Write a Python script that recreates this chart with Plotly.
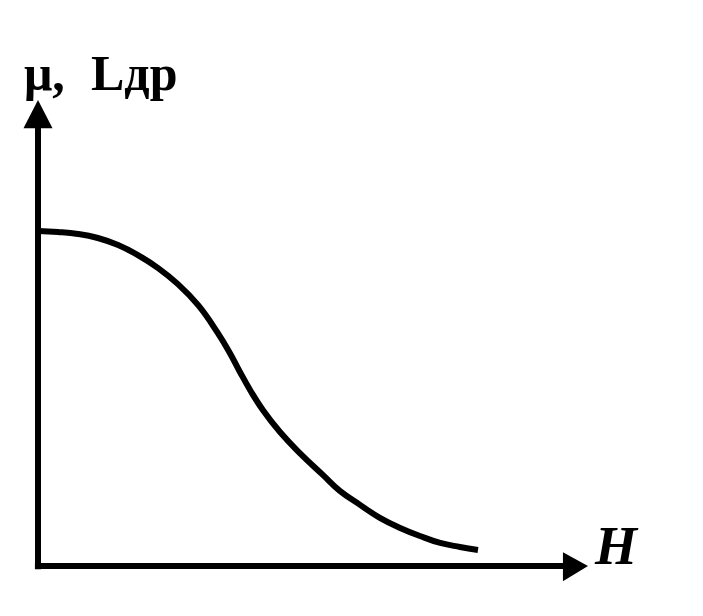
import plotly.graph_objects as go

# Curve data (arbitrary units): field strength H vs permeability / inductance
H = [0.0, 0.45, 0.91, 1.36, 1.82, 2.27, 2.73, 3.18, 3.64, 4.07, 4.36, 4.59, 4.82, 5.11,
     5.50, 5.95, 6.48, 6.86, 7.32, 7.77, 8.23, 8.68, 9.14, 9.59, 10.0]
mu = [10.03, 10.00, 9.94, 9.82, 9.61, 9.31, 8.92, 8.44, 7.81, 7.01, 6.38, 5.81, 5.27, 4.67,
      4.01, 3.38, 2.72, 2.25, 1.83, 1.44, 1.14, 0.90, 0.69, 0.57, 0.48]

y_label_a = "μ,"
y_label_b = "Lдр"
x_label = "H"

# axis extents (data units)
x_axis_end = 12.5
y_axis_end = 13.95
x_head_len = 0.57
y_head_len = 0.84
x_head_half = 0.41
y_head_half = 0.33

px_x = 44.0   # pixels per H unit
px_y = 33.4   # pixels per mu unit
W, Hpx = 687, 600   # page body has an 8px margin
ox, oy = 30, 558

fig = go.Figure()
fig.add_trace(go.Scatter(x=H, y=mu, mode="lines",
                         line=dict(color="black", width=6, shape="spline", smoothing=1.3),
                         hoverinfo="skip", showlegend=False))

lw = 6
shapes = [
    dict(type="line", xref="x", yref="y", x0=0, y0=-0.1, x1=0, y1=y_axis_end - y_head_len + 0.1,
         line=dict(color="black", width=lw)),
    dict(type="line", xref="x", yref="y", x0=-0.07, y0=0, x1=x_axis_end - x_head_len + 0.1, y1=0,
         line=dict(color="black", width=lw)),
    dict(type="path", xref="x", yref="y",
         path=f"M {-y_head_half},{y_axis_end - y_head_len} L {y_head_half},{y_axis_end - y_head_len} L 0,{y_axis_end} Z",
         fillcolor="black", line=dict(color="black", width=0)),
    dict(type="path", xref="x", yref="y",
         path=f"M {x_axis_end - x_head_len},{x_head_half} L {x_axis_end - x_head_len},{-x_head_half - 0.05} L {x_axis_end},0 Z",
         fillcolor="black", line=dict(color="black", width=0)),
]

font_lbl = dict(family="Liberation Serif", size=50, color="black")
annotations = [
    dict(x=-0.36, y=14.76, xref="x", yref="y", text=f"<b>{y_label_a}</b>", showarrow=False,
         xanchor="left", yanchor="middle", font=font_lbl),
    dict(x=1.16, y=14.76, xref="x", yref="y", text=f"<b>{y_label_b}</b>", showarrow=False,
         xanchor="left", yanchor="middle", font=font_lbl),
    dict(x=12.6, y=0.60, xref="x", yref="y", text=f"<b><i>{x_label}</i></b>", showarrow=False,
         xanchor="left", yanchor="middle",
         font=dict(family="Liberation Serif", size=54, color="black")),
]

fig.update_layout(
    width=W, height=Hpx,
    margin=dict(l=0, r=0, t=0, b=0),
    paper_bgcolor="white", plot_bgcolor="white",
    xaxis=dict(range=[-ox / px_x, (W - ox) / px_x], visible=False, fixedrange=True),
    yaxis=dict(range=[-(Hpx - oy) / px_y, oy / px_y], visible=False, fixedrange=True),
    shapes=shapes, annotations=annotations, showlegend=False,
)

fig.write_html("out.html")
